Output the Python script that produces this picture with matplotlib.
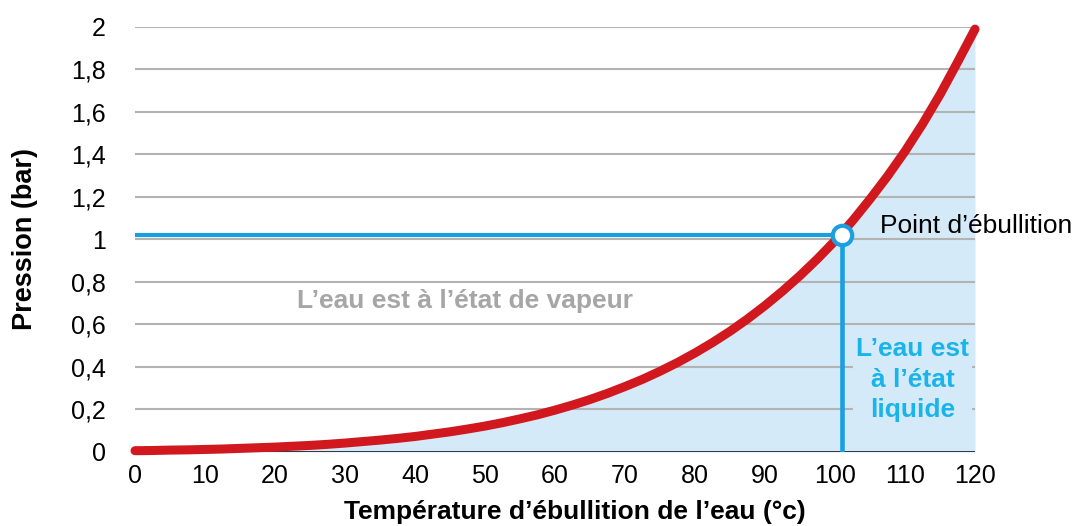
import matplotlib
matplotlib.use("Agg")
import matplotlib.pyplot as plt

plt.rcParams['font.family'] = ['Liberation Sans', 'DejaVu Sans']

# Saturation vapour pressure of water (bar) vs boiling temperature (°C)
temperatures = [0, 2.5, 5, 7.5, 10, 12.5, 15, 17.5, 20, 22.5, 25, 27.5, 30,
                32.5, 35, 37.5, 40, 42.5, 45, 47.5, 50, 52.5, 55, 57.5, 60,
                62.5, 65, 67.5, 70, 72.5, 75, 77.5, 80, 82.5, 85, 87.5, 90,
                92.5, 95, 97.5, 100, 102.5, 105, 107.5, 110, 112.5, 115,
                117.5, 120]
pressures = [0.006, 0.007, 0.009, 0.010, 0.012, 0.014, 0.017, 0.020, 0.023,
             0.027, 0.031, 0.036, 0.042, 0.049, 0.056, 0.064, 0.073, 0.084,
             0.095, 0.108, 0.122, 0.138, 0.156, 0.175, 0.197, 0.221, 0.247,
             0.276, 0.308, 0.342, 0.380, 0.421, 0.466, 0.515, 0.568, 0.626,
             0.689, 0.757, 0.830, 0.909, 0.994, 1.088, 1.190, 1.298, 1.415,
             1.543, 1.682, 1.834, 1.990]

boiling_temp = 101
boiling_pressure = 1.02

x_ticks = [0, 10, 20, 30, 40, 50, 60, 70, 80, 90, 100, 110, 120]
y_ticks = [0, 0.2, 0.4, 0.6, 0.8, 1.0, 1.2, 1.4, 1.6, 1.8, 2.0]
y_tick_labels = ["0", "0,2", "0,4", "0,6", "0,8", "1", "1,2", "1,4", "1,6", "1,8", "2"]

red = "#d0181e"
blue = "#1a9fe0"
fill_blue = "#d4eaf8"
label_blue = "#1ab4ea"
grey_text = "#a6a6a6"

fig = plt.figure(figsize=(10.75, 5.26), dpi=100)
ax = fig.add_axes([0.1256, 0.1407, 0.7814, 0.808])

ax.set_xlim(0, 120)
ax.set_ylim(0, 2)

for y in y_ticks[1:]:
    ax.axhline(y, color="#b3b3b3", lw=1.5, zorder=1)

ax.fill_between(temperatures, pressures, 0, color=fill_blue, lw=0, zorder=0)

ax.axhline(0, color="black", lw=1.8, zorder=2)

ax.plot([0, boiling_temp], [boiling_pressure, boiling_pressure], color=blue, lw=3, zorder=3)
ax.plot([boiling_temp, boiling_temp], [0, boiling_pressure], color=blue, lw=3.3, zorder=3)

ax.plot(temperatures, pressures, color=red, lw=6.5, solid_capstyle="round",
        solid_joinstyle="round", clip_on=False, zorder=4)

ax.plot([boiling_temp], [boiling_pressure], marker="o", markersize=14,
        markerfacecolor="white", markeredgecolor=blue, markeredgewidth=3,
        clip_on=False, zorder=5)

ax.text(106.4, 1.063, "Point d\u2019ébullition", fontsize=19, color="black",
        ha="left", va="center", zorder=6, clip_on=False)

ax.text(47.1, 0.71, "L\u2019eau est à l\u2019état de vapeur", fontsize=19,
        fontweight="bold", color=grey_text, ha="center", va="center", zorder=6)

ax.text(111.1, 0.34, "L\u2019eau est\nà l\u2019état\nliquide", fontsize=19,
        fontweight="bold", color=label_blue, ha="center", va="center",
        linespacing=1.35, zorder=6,
        bbox=dict(facecolor=fill_blue, edgecolor="none", pad=2))

ax.set_xticks(x_ticks)
ax.set_yticks(y_ticks)
ax.set_yticklabels(y_tick_labels)
ax.tick_params(axis="both", length=0, labelsize=18)
ax.tick_params(axis="x", pad=9)
ax.tick_params(axis="y", pad=21)

for spine in ax.spines.values():
    spine.set_visible(False)

ax.set_xlabel("Température d\u2019ébullition de l\u2019eau (°c)", fontsize=19,
              fontweight="bold")
ax.xaxis.set_label_coords(0.524, -0.113)
ax.set_ylabel("Pression (bar)", fontsize=19.5, fontweight="bold", labelpad=24)

fig.savefig("out.png", dpi=100)
